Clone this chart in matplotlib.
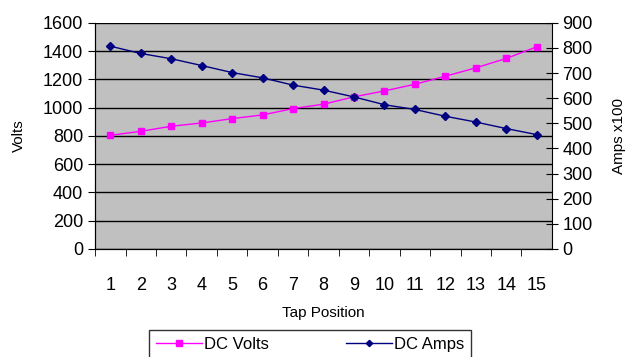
import matplotlib
matplotlib.use('Agg')
import matplotlib.pyplot as plt
from matplotlib.ticker import MultipleLocator

plt.rcParams['font.family'] = ['Liberation Sans', 'DejaVu Sans']

# data
taps = list(range(1, 16))
dc_volts = [804, 832, 868, 891, 922, 948, 993, 1024, 1076, 1118, 1165, 1222, 1281, 1348, 1430]
dc_amps = [807, 778, 757, 730, 702, 681, 652, 632, 605, 574, 555, 528, 505, 479, 455]  # x100

fig = plt.figure(figsize=(6.3, 3.57), dpi=100)
ax = fig.add_axes([0.151, 0.303, 0.725, 0.633])
ax.set_facecolor('#c0c0c0')

ax.plot(taps, dc_volts, color='#ff00ff', marker='s', markersize=5, linewidth=1, label='DC Volts', zorder=3)
ax.set_xlim(0.5, 15.5)
ax.set_ylim(0, 1600)
ax.yaxis.set_major_locator(MultipleLocator(200))
ax.grid(axis='y', color='black', linewidth=1)
ax.set_axisbelow(True)

# labels sit on the categories, tick marks go between them
ax.set_xticks(taps)
ax.set_xticks([t + 0.5 for t in range(0, 15)], minor=True)
ax.tick_params(axis='x', which='major', length=0, labelsize=13, pad=20)
ax.tick_params(axis='x', which='minor', length=5, direction='out')
ax.tick_params(axis='y', labelsize=13, length=5, direction='out')
ax.set_xlabel('Tap Position', fontsize=11, labelpad=9)
ax.set_ylabel('Volts', fontsize=11, labelpad=12)

for s in ['top', 'right']:
  ax.spines[s].set_visible(False)

ax2 = ax.twinx()
ax2.plot(taps, dc_amps, color='#000080', marker='D', markersize=4, linewidth=1, label='DC Amps', zorder=3)
ax2.set_ylim(0, 900)
ax2.yaxis.set_major_locator(MultipleLocator(100))
ax2.tick_params(axis='y', labelsize=13, length=8, direction='inout')
ax2.set_ylabel('Amps x100', fontsize=11, labelpad=14)
ax2.spines['top'].set_visible(False)

# legend at the bottom, partly cut off as in the original
h1, l1 = ax.get_legend_handles_labels()
h2, l2 = ax2.get_legend_handles_labels()
leg = fig.legend(h1 + h2, l1 + l2, loc='upper center', bbox_to_anchor=(0.492, 0.076),
                 ncol=2, fontsize=12, frameon=True, fancybox=False, edgecolor='black',
                 columnspacing=4.6, handlelength=2.8, handletextpad=0.1,
                 borderpad=0.4, borderaxespad=0, markerscale=0.8)
leg.get_frame().set_linewidth(1)

fig.savefig('out.png', dpi=100)
